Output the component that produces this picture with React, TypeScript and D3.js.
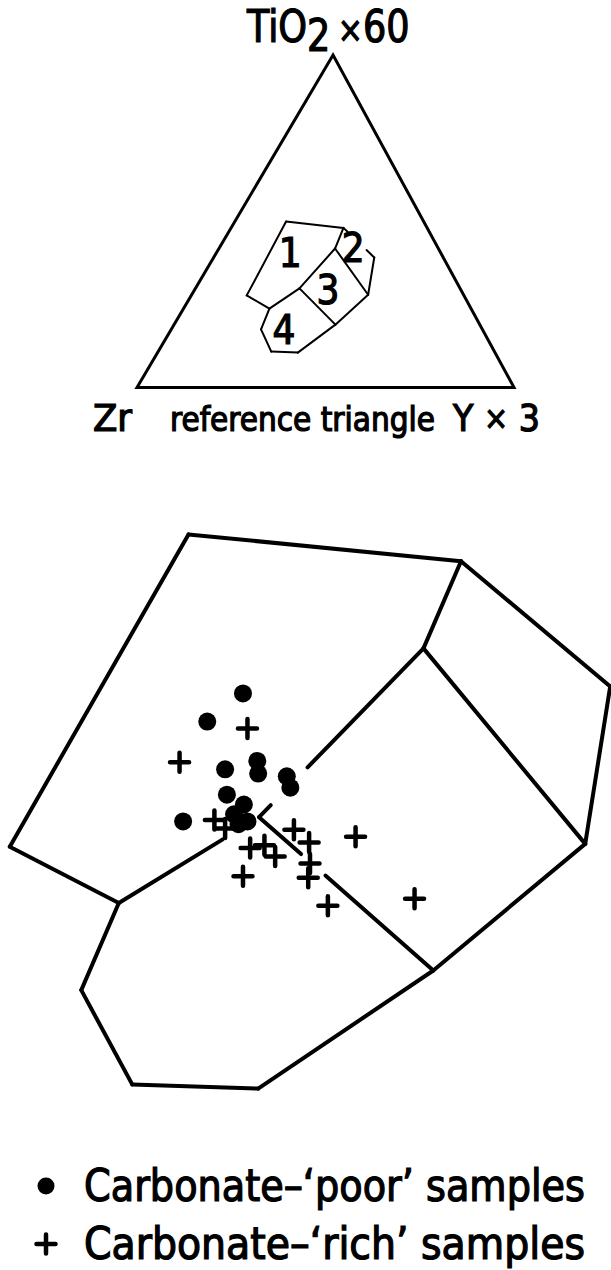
import React, { useLayoutEffect, useRef, useState } from 'react';
import * as d3 from 'd3';

// Ternary coordinates in percent: TiO2 x60, Zr, Y x3
// corners of the discrimination fields
const fieldVertices = [
  { id: 'TL', ti: 49.9, zr: 36.5, y: 13.6 },
  { id: 'TR', ti: 48.0, zr: 22.2, y: 29.8 },
  { id: 'R1', ti: 39.1, zr: 18.3, y: 42.6 },
  { id: 'R2', ti: 27.9, zr: 25.3, y: 46.8 },
  { id: 'B', ti: 18.9, zr: 38.3, y: 42.8 },
  { id: 'Bot', ti: 10.5, zr: 52.3, y: 37.2 },
  { id: 'BL', ti: 10.8, zr: 59.2, y: 30.0 },
  { id: 'LL', ti: 17.5, zr: 58.7, y: 23.8 },
  { id: 'L', ti: 23.7, zr: 53.5, y: 22.8 },
  { id: 'Lft', ti: 27.7, zr: 57.6, y: 14.7 },
  { id: 'J', ti: 41.8, zr: 27.4, y: 30.8 },
  { id: 'T', ti: 29.8, zr: 42.6, y: 27.6 },
];

const outline = ['TL', 'TR', 'R1', 'R2', 'B', 'Bot', 'BL', 'LL', 'L', 'Lft'];

const boundaries = [
  ['TR', 'J'],
  ['J', 'R2'],
  ['J', 'T'],
  ['T', 'B'],
  ['L', 'T'],
];

// where the lines are left open (fraction along the line)
const largeGaps = {
  'J-T': [[0.705, 0.929]],
  'T-B': [[0.241, 0.381]],
  'L-T': [[0.741, 1]],
};
const smallGaps = {
  'TR-R1': [[0.15, 0.75]],
};

const fieldLabels = [
  { name: '1', ti: 40.5, zr: 40.0, y: 19.6 },
  { name: '2', ti: 42.0, zr: 22.6, y: 35.5 },
  { name: '3', ti: 29.3, zr: 35.3, y: 35.4 },
  { name: '4', ti: 17.3, zr: 52.7, y: 30.0 },
];

// Carbonate-'poor' samples
const poorSamples = [
  { ti: 38.6, zr: 39.1, y: 22.3 },
  { ti: 36.6, zr: 42.1, y: 21.3 },
  { ti: 33.2, zr: 42.8, y: 24.0 },
  { ti: 33.8, zr: 40.7, y: 25.5 },
  { ti: 32.9, zr: 41.1, y: 26.0 },
  { ti: 32.7, zr: 39.6, y: 27.7 },
  { ti: 31.9, zr: 39.8, y: 28.3 },
  { ti: 31.4, zr: 43.6, y: 25.0 },
  { ti: 30.7, zr: 43.0, y: 26.3 },
  { ti: 30.0, zr: 43.9, y: 26.1 },
  { ti: 29.5, zr: 43.4, y: 27.1 },
  { ti: 29.3, zr: 44.0, y: 26.7 },
  { ti: 29.5, zr: 47.0, y: 23.5 },
];

// Carbonate-'rich' samples
const richSamples = [
  { ti: 36.1, zr: 40.1, y: 23.8 },
  { ti: 33.7, zr: 45.1, y: 21.2 },
  { ti: 29.6, zr: 45.2, y: 25.2 },
  { ti: 29.0, zr: 44.8, y: 26.1 },
  { ti: 27.6, zr: 44.2, y: 28.2 },
  { ti: 27.8, zr: 43.3, y: 28.9 },
  { ti: 27.0, zr: 43.1, y: 29.9 },
  { ti: 25.6, zr: 45.6, y: 28.8 },
  { ti: 28.9, zr: 41.1, y: 30.0 },
  { ti: 28.0, zr: 40.7, y: 31.3 },
  { ti: 26.5, zr: 41.4, y: 32.1 },
  { ti: 25.5, zr: 42.0, y: 32.5 },
  { ti: 23.5, zr: 42.0, y: 34.6 },
  { ti: 28.4, zr: 37.9, y: 33.7 },
  { ti: 24.0, zr: 36.8, y: 39.2 },
];

const triangleCorners = [
  { id: 'Ti', ti: 100, zr: 0, y: 0 },
  { id: 'Zr', ti: 0, zr: 100, y: 0 },
  { id: 'Y', ti: 0, zr: 0, y: 100 },
];

const legendItems = ['Carbonate–‘poor’ samples', 'Carbonate–‘rich’ samples'];

const W = 611;
const H = 1270;
const font = "'DejaVu Sans Condensed', 'DejaVu Sans', sans-serif";

const smallPanel = {
  x: d3.scaleLinear().domain([0, 1]).range([137, 514]),
  y: d3.scaleLinear().domain([0, 1]).range([387.5, 55]),
  skew: 0.52,
  gaps: smallGaps,
};

const largePanel = {
  x: d3.scaleLinear().domain([0, 1]).range([-500.4, 1286.6]),
  y: d3.scaleLinear().domain([0, 1]).range([1236.3, -170.2]),
  skew: 0.5,
  gaps: largeGaps,
};

const project = (p, panel) => {
  const ti = p.ti / 100;
  const yv = p.y / 100;
  return [panel.x(yv + panel.skew * ti), panel.y(ti)];
};

const openParts = (gaps) => {
  const out = [];
  let cur = 0;
  (gaps || []).forEach(([g0, g1]) => {
    if (g0 > cur) out.push([cur, g0]);
    cur = g1;
  });
  if (cur < 1) out.push([cur, 1]);
  return out;
};

const crossPath = (cx, cy, r) => {
  const p = d3.path();
  p.moveTo(cx - r, cy);
  p.lineTo(cx + r, cy);
  p.moveTo(cx, cy - r);
  p.lineTo(cx, cy + r);
  return p.toString();
};

const byId = new Map(fieldVertices.map(v => [v.id, v]));
const edges = [
  ...outline.map((id, i) => [id, outline[(i + 1) % outline.length]]),
  ...boundaries,
];

function fieldLines(panel, width, prefix) {
  const line = d3.line();
  const paths = [];
  edges.forEach(([a, b]) => {
    const A = project(byId.get(a), panel);
    const B = project(byId.get(b), panel);
    openParts(panel.gaps[`${a}-${b}`]).forEach(([t0, t1], k) => {
      const p0 = [A[0] + (B[0] - A[0]) * t0, A[1] + (B[1] - A[1]) * t0];
      const p1 = [A[0] + (B[0] - A[0]) * t1, A[1] + (B[1] - A[1]) * t1];
      paths.push(
        <path
          key={`${prefix}-${a}-${b}-${k}`}
          d={line([p0, p1])}
          fill="none"
          stroke="#000"
          strokeWidth={width}
          strokeLinecap="round"
        />
      );
    });
  });
  return paths;
}

export default function App() {
  const tri = triangleCorners.map(c => project(c, smallPanel));
  const [apex, zrCorner, yCorner] = tri;

  // squeeze the apex label to the width it has in the figure
  const apexRef = useRef(null);
  const [apexScale, setApexScale] = useState(0.8);
  useLayoutEffect(() => {
    if (apexRef.current) {
      const w = apexRef.current.getComputedTextLength();
      if (w > 0) setApexScale(155 / w);
    }
  }, []);

  return (
    <svg
      width={W}
      height={H}
      style={{ position: 'absolute', left: 0, top: 0, display: 'block' }}
      fontFamily={font}
    >
      <rect width={W} height={H} fill="#fff" />

      {/* reference triangle */}
      <path
        d={d3.line()(tri) + 'Z'}
        fill="none"
        stroke="#000"
        strokeWidth={3}
        strokeLinejoin="miter"
      />
      {fieldLines(smallPanel, 2, 's')}

      <g stroke="#000" strokeWidth={1.2}>
        {fieldLabels.map(l => {
          const [x, y] = project(l, smallPanel);
          return (
            <text key={l.name} x={x} y={y} dy="0.36em" fontSize={40} textAnchor="middle">
              {l.name}
            </text>
          );
        })}

        {/* corner labels */}
        <text
          ref={apexRef}
          x={0}
          y={0}
          fontSize={44}
          transform={`translate(${apex[0] - 86},${apex[1] - 13}) scale(${apexScale},1)`}
        >
          TiO<tspan dy={9}>2</tspan>
          <tspan dy={-9} dx={8} fontSize={36}>×</tspan>
          <tspan>60</tspan>
        </text>

        <text x={zrCorner[0] - 44} y={zrCorner[1] + 43} fontSize={37} textLength={39} lengthAdjust="spacingAndGlyphs">Zr</text>
        <text x={zrCorner[0] + 33} y={zrCorner[1] + 43} fontSize={33} textLength={265} lengthAdjust="spacingAndGlyphs">reference triangle</text>
        <text
          x={yCorner[0] - 61}
          y={yCorner[1] + 43}
          fontSize={37}
          textLength={87}
          lengthAdjust="spacing"
        >
          Y<tspan fontSize={32} dy={-2}>×</tspan>
          <tspan dy={2}>3</tspan>
        </text>
      </g>

      {/* enlarged fields */}
      {fieldLines(largePanel, 4, 'l')}

      {poorSamples.map((s, i) => {
        const [x, y] = project(s, largePanel);
        return <circle key={`p${i}`} cx={x} cy={y} r={9} fill="#000" />;
      })}
      {richSamples.map((s, i) => {
        const [x, y] = project(s, largePanel);
        return (
          <path
            key={`r${i}`}
            d={crossPath(x, y, 9.5)}
            stroke="#000"
            strokeWidth={4.5}
            strokeLinecap="round"
            fill="none"
          />
        );
      })}

      {/* legend */}
      <circle cx={46} cy={1186} r={8.5} fill="#000" />
      <path d={crossPath(46, 1244, 9.5)} stroke="#000" strokeWidth={4.5} strokeLinecap="round" fill="none" />
      {legendItems.map((t, i) => (
        <text
          key={t}
          x={84}
          y={1201 + i * 58}
          fontSize={44}
          textLength={501}
          lengthAdjust="spacingAndGlyphs"
          stroke="#000"
          strokeWidth={1.2}
        >
          {t}
        </text>
      ))}
    </svg>
  );
}
